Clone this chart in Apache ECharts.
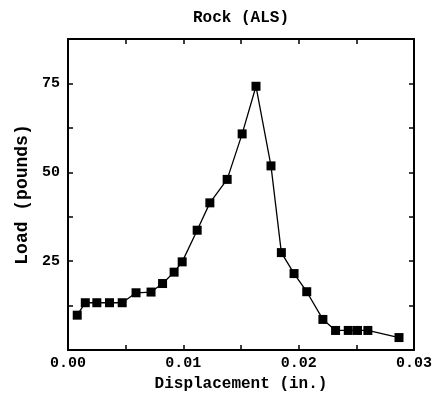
<!DOCTYPE html>
<html>
<head>
<meta charset="utf-8">
<script src="https://cdn.jsdelivr.net/npm/echarts@6/dist/echarts.min.js"></script>
<style>
  html, body { margin: 0; padding: 0; background: #fff; }
  #main { width: 437px; height: 405px; }
</style>
</head>
<body>
<div id="main"></div>
<script>
// displacement (in.) and load (pounds)
var displacement = [0.0008, 0.0015, 0.0025, 0.0036, 0.0047, 0.0059, 0.0072, 0.0082, 0.0092, 0.0099,
                    0.0112, 0.0123, 0.0138, 0.0151, 0.0163, 0.0176, 0.0185, 0.0196, 0.0207, 0.0221,
                    0.0232, 0.0243, 0.0251, 0.0260, 0.0287];
var load = [9.8, 13.3, 13.3, 13.3, 13.3, 16.1, 16.3, 18.7, 21.9, 24.8,
            33.7, 41.4, 48.0, 60.8, 74.2, 51.8, 27.4, 21.5, 16.4, 8.6,
            5.5, 5.5, 5.5, 5.5, 3.5];
var xTicks = [0.00, 0.01, 0.02, 0.03];
var yTicks = [25, 50, 75];

var pts = [];
for (var i = 0; i < displacement.length; i++) {
    pts.push([displacement[i], load[i]]);
}

var font = 'Liberation Mono';
var axisLine = { show: true, onZero: false, lineStyle: { color: '#000', width: 2 } };
var axisTick = { show: true, inside: true, length: 5, lineStyle: { color: '#000', width: 1.5 } };

var myChart = echarts.init(document.getElementById('main'), null, { renderer: 'canvas' });

var option = {
    animation: false,
    backgroundColor: '#fff',
    grid: { left: 68, right: 23, top: 39, bottom: 55 },
    xAxis: [
        {
            type: 'value', min: 0, max: 0.03, interval: 0.005, position: 'bottom',
            name: 'Displacement (in.)', nameLocation: 'middle', nameGap: 22,
            nameTextStyle: { fontFamily: font, fontSize: 16, fontWeight: 'bold', color: '#000' },
            axisLine: axisLine,
            axisTick: axisTick,
            axisLabel: {
                fontFamily: font, fontSize: 15, fontWeight: 'bold', color: '#000', margin: 6,
                formatter: function (v) {
                    for (var k = 0; k < xTicks.length; k++) {
                        if (Math.abs(v - xTicks[k]) < 1e-9) return xTicks[k].toFixed(2);
                    }
                    return '';
                }
            },
            splitLine: { show: false }
        },
        {
            type: 'value', min: 0, max: 0.03, interval: 0.005, position: 'top',
            name: 'Rock (ALS)', nameLocation: 'middle', nameGap: 13,
            nameTextStyle: { fontFamily: font, fontSize: 16, fontWeight: 'bold', color: '#000' },
            axisLine: axisLine,
            axisTick: axisTick,
            axisLabel: { show: false },
            splitLine: { show: false }
        }
    ],
    yAxis: [
        {
            type: 'value', min: 0, max: 87.5, interval: 12.5, position: 'left',
            name: 'Load (pounds)', nameLocation: 'middle', nameGap: 37,
            nameTextStyle: { fontFamily: font, fontSize: 18, fontWeight: 'bold', color: '#000', padding: [0, 0, 0, 0] },
            axisLine: axisLine,
            axisTick: axisTick,
            axisLabel: {
                fontFamily: font, fontSize: 15, fontWeight: 'bold', color: '#000', margin: 8,
                formatter: function (v) {
                    return yTicks.indexOf(v) >= 0 ? String(v) : '';
                }
            },
            splitLine: { show: false }
        },
        {
            type: 'value', min: 0, max: 87.5, interval: 12.5, position: 'right',
            axisLine: axisLine,
            axisTick: axisTick,
            axisLabel: { show: false },
            splitLine: { show: false }
        }
    ],
    series: [
        {
            type: 'line',
            data: pts,
            symbol: 'rect',
            symbolSize: 9,
            itemStyle: { color: '#000' },
            lineStyle: { color: '#000', width: 1.3 }
        }
    ]
};

myChart.setOption(option);
</script>
</body>
</html>
